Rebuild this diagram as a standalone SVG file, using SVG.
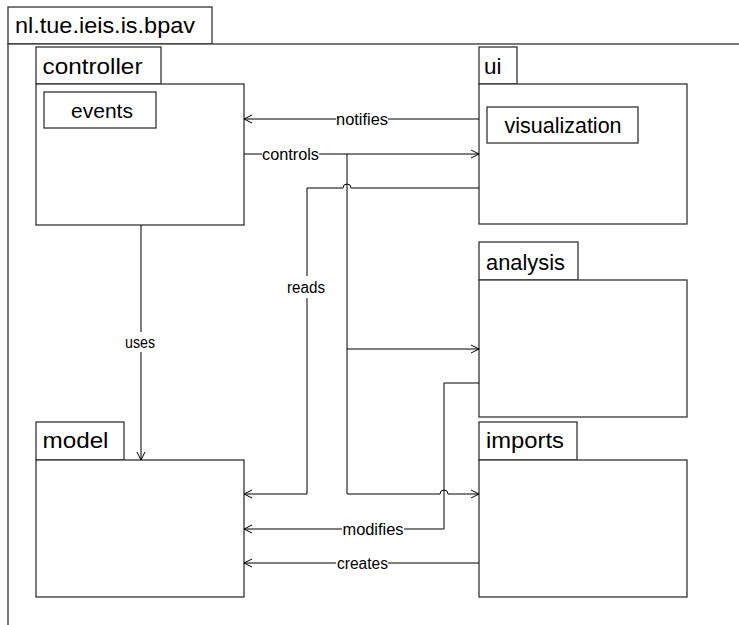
<svg xmlns="http://www.w3.org/2000/svg" width="739" height="625" viewBox="0 0 739 625">
<style>
.box{fill:#fff;stroke:#333;stroke-width:1.3}
.t{font-family:"Liberation Sans",Arial,sans-serif;font-size:22.5px;fill:#000}
.lbl{font-family:"Liberation Sans",Arial,sans-serif;font-size:16px;fill:#000;dominant-baseline:central}
.ln{fill:none;stroke:#000;stroke-width:1}
.bg{fill:#fff}
</style>
<defs>
<marker id="a" markerWidth="10" markerHeight="10" refX="9" refY="5" orient="auto" markerUnits="userSpaceOnUse">
<path d="M1,1 L9,5 L1,9" fill="none" stroke="#000" stroke-width="1"/>
</marker>
</defs>
<g id="pkg-root">
<rect class="box" x="8" y="7" width="204" height="37"/>
<rect class="box" x="8" y="44" width="740" height="600"/>
<text class="t" x="15" y="33" textLength="180" lengthAdjust="spacingAndGlyphs">nl.tue.ieis.is.bpav</text>
</g>
<g id="pkg-controller">
<rect class="box" x="36" y="47" width="125" height="37"/>
<rect class="box" x="36" y="84" width="208" height="141"/>
<text class="t" x="42.5" y="74" textLength="100" lengthAdjust="spacingAndGlyphs">controller</text>
<rect class="box" x="44" y="92" width="112" height="36"/>
<text class="t" x="102" y="118" text-anchor="middle" style="font-size:21px">events</text>
</g>
<g id="pkg-ui">
<rect class="box" x="479" y="47" width="38" height="37"/>
<rect class="box" x="479" y="84" width="208" height="140"/>
<text class="t" x="484" y="74">ui</text>
<rect class="box" x="487" y="107" width="151" height="36"/>
<text class="t" x="563" y="133" text-anchor="middle" style="font-size:21.5px">visualization</text>
</g>
<g id="pkg-analysis">
<rect class="box" x="479" y="242" width="99" height="38"/>
<rect class="box" x="479" y="280" width="208" height="137"/>
<text class="t" x="486" y="270" textLength="79" lengthAdjust="spacingAndGlyphs">analysis</text>
</g>
<g id="pkg-imports">
<rect class="box" x="479" y="422" width="98" height="38"/>
<rect class="box" x="479" y="460" width="208" height="137"/>
<text class="t" x="486" y="448" textLength="78" lengthAdjust="spacingAndGlyphs">imports</text>
</g>
<g id="pkg-model">
<rect class="box" x="36" y="422" width="88" height="38"/>
<rect class="box" x="36" y="460" width="208" height="137"/>
<text class="t" x="42.5" y="448" textLength="66" lengthAdjust="spacingAndGlyphs">model</text>
</g>
<g id="connectors">
<path class="ln" d="M479,119 H244" marker-end="url(#a)"/>
<rect class="bg" x="336" y="110" width="52" height="18"/>
<text class="lbl" x="336" y="119" textLength="52" lengthAdjust="spacingAndGlyphs">notifies</text>

<path class="ln" d="M244,154 H479" marker-end="url(#a)"/>
<rect class="bg" x="262" y="145" width="57" height="18"/>
<text class="lbl" x="262" y="154" textLength="57" lengthAdjust="spacingAndGlyphs">controls</text>
<path class="ln" d="M347,154 V494"/>
<path class="ln" d="M347,349 H479" marker-end="url(#a)"/>
<path class="ln" d="M347,494 H440 A4,4 0 0 1 448,494 H479" marker-end="url(#a)"/>

<path class="ln" d="M479,188 H351 A4,4 0 0 0 343,188 H307 V494 H244" marker-end="url(#a)"/>
<rect class="bg" x="286" y="276" width="42" height="22"/>
<text class="lbl" x="287" y="287" textLength="38" lengthAdjust="spacingAndGlyphs">reads</text>

<path class="ln" d="M141,225 V460" marker-end="url(#a)"/>
<rect class="bg" x="124" y="332" width="34" height="20"/>
<text class="lbl" x="125" y="342" textLength="30" lengthAdjust="spacingAndGlyphs">uses</text>

<path class="ln" d="M479,383 H444 V529 H244" marker-end="url(#a)"/>
<rect class="bg" x="342" y="520" width="62" height="18"/>
<text class="lbl" x="342.5" y="529" textLength="61" lengthAdjust="spacingAndGlyphs">modifies</text>

<path class="ln" d="M479,563 H244" marker-end="url(#a)"/>
<rect class="bg" x="336" y="554" width="52" height="18"/>
<text class="lbl" x="337" y="563" textLength="51" lengthAdjust="spacingAndGlyphs">creates</text>
</g>
</svg>
